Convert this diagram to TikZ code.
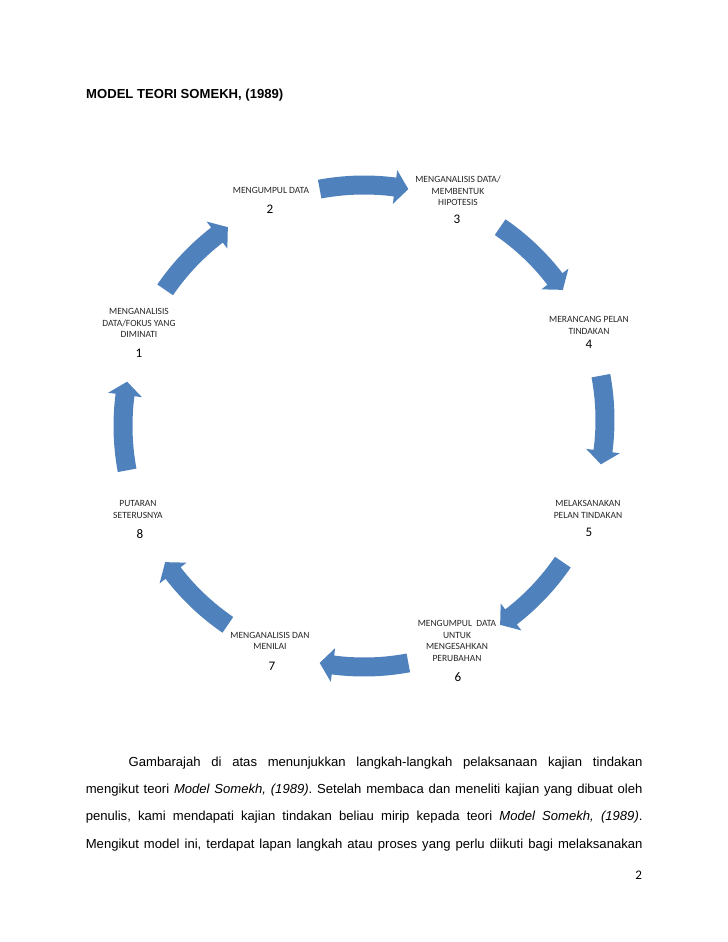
\documentclass[tikz,border=0pt]{standalone}
\usepackage{fontspec}
\setmainfont{Liberation Sans}
\newfontfamily\calibrifont{Carlito}
\definecolor{arrowblue}{HTML}{4F81BD}
\usetikzlibrary{calc}
\tikzset{
	titlenode/.style={
			anchor=base west,
			inner sep=0pt,
			font=\bfseries\fontsize{11}{13}\selectfont
		},
	labelnode/.style={
			align=center,
			inner sep=0pt,
			text=black!85,
			font=\calibrifont\fontsize{8}{9.7}\selectfont
		},
	numnode/.style={
			inner sep=0pt,
			font=\calibrifont\fontsize{11}{13}\selectfont
		},
	textnode/.style={
			anchor=north west,
			inner sep=0pt,
			text width=468pt,
			align=justify,
			font=\fontsize{11}{22.95}\selectfont
		},
	cyclearrow/.style={
			fill=arrowblue,
			draw=none
		}
}
% one curved block arrow of the cycle, #1 = its middle angle
\newcommand{\blockarrow}[1]{%
  \fill[cyclearrow] (#1-10.6:250.5) arc[start angle=#1-10.6, end angle=#1+7.4, radius=250.5]
    -- (#1+7.4:258) -- (#1+10.6:241) -- (#1+7.4:224)
    -- (#1+7.4:231.5) arc[start angle=#1+7.4, end angle=#1-10.6, radius=231.5] -- cycle;}

\begin{document}
\begin{tikzpicture}[x=0.8407pt, y=-0.8407pt]
\useasboundingbox (0,0) rectangle (728,942);

\node[titlenode] (title) at (86,98) {MODEL TEORI SOMEKH, (1989)};

\begin{scope}[shift={(364,426)}]
\blockarrow{-90}
\blockarrow{-45}
\blockarrow{45}
\blockarrow{90}
\blockarrow{135}
\blockarrow{180}
\blockarrow{225}
\end{scope}
\begin{scope}[shift={(364,420)}]
\blockarrow{0}
\end{scope}

\node[labelnode] (t1) at (139,323) {MENGANALISIS\\DATA/FOKUS YANG\\DIMINATI};
\node[numnode] (n1) at (139,353) {1};
\node[labelnode] (t2) at (271,190) {MENGUMPUL DATA};
\node[numnode] (n2) at (270,209) {2};
\node[labelnode] (t3) at (458,191) {MENGANALISIS DATA/\\MEMBENTUK\\HIPOTESIS};
\node[numnode] (n3) at (457,219) {3};
\node[labelnode] (t4) at (589,325.5) {MERANCANG PELAN\\TINDAKAN};
\node[numnode] (n4) at (589,344) {4};
\node[labelnode] (t5) at (588,509.5) {MELAKSANAKAN\\PELAN TINDAKAN};
\node[numnode] (n5) at (589,532) {5};
\node[labelnode] (t6) at (457,641) {MENGUMPUL\ \ DATA\\UNTUK\\MENGESAHKAN\\PERUBAHAN};
\node[numnode] (n6) at (458,677) {6};
\node[labelnode] (t7) at (270,641) {MENGANALISIS DAN\\MENILAI};
\node[numnode] (n7) at (272,666) {7};
\node[labelnode] (t8) at (138,509.5) {PUTARAN\\SETERUSNYA};
\node[numnode] (n8) at (140,534) {8};

\node[textnode] (para) at (85.6,756.5) {\frenchspacing\parfillskip=0pt\hyphenpenalty=10000
  \hspace*{36pt}Gambarajah di atas menunjukkan langkah-langkah pelaksanaan kajian tindakan\linebreak
  mengikut teori \textit{Model Somekh, (1989)}. Setelah membaca dan meneliti kajian yang dibuat oleh\linebreak
  penulis, kami mendapati kajian tindakan beliau mirip kepada teori \textit{Model Somekh, (1989)}.\linebreak
  Mengikut model ini, terdapat lapan langkah atau proses yang perlu diikuti bagi melaksanakan\par};

\node[numnode, anchor=base east] (pagenum) at (642.3,879) {2};
\end{tikzpicture}
\end{document}
